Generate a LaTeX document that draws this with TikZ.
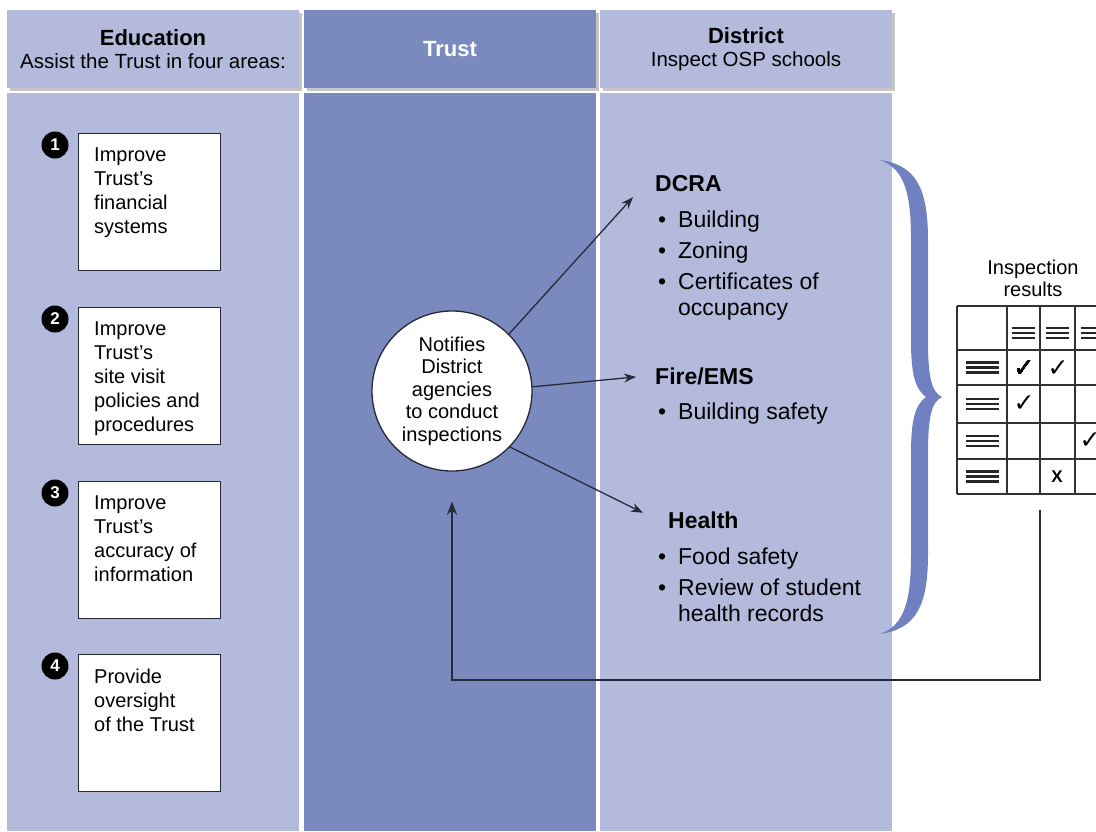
\documentclass[tikz,border=0pt]{standalone}
\usepackage{fontspec}
\setmainfont{Liberation Sans}
\newfontfamily\symfont{DejaVu Sans}
\usetikzlibrary{positioning,calc,shadows,arrows.meta}

\definecolor{lavender}{RGB}{180,186,220}
\definecolor{trustblue}{RGB}{122,138,190}
\definecolor{bracecol}{RGB}{112,128,192}
\definecolor{ink}{RGB}{38,42,56}

\tikzstyle{header} = [minimum width=292pt,minimum height=78pt,inner sep=0pt,align=center,
  font=\fontsize{20.5}{23}\selectfont,
  drop shadow={shadow xshift=2.5pt,shadow yshift=-2.5pt,opacity=.45}]
\tikzstyle{aimbox} = [draw=ink,line width=1.4pt,fill=white,minimum width=142pt,minimum height=137pt,anchor=north west,inner sep=0pt]
\tikzstyle{aimtext} = [align=left,inner sep=0pt,font=\fontsize{20}{24}\selectfont]
\tikzstyle{numdot} = [circle,fill=black,text=white,minimum size=27pt,inner sep=0pt,font=\fontsize{17}{17}\selectfont\bfseries]
\tikzstyle{nodedecorate} = [circle,draw=ink,line width=1.3pt,fill=white,minimum size=160pt,inner sep=0pt,align=center,font=\fontsize{20}{22.5}\selectfont]
\tikzstyle{agency} = [anchor=base west,inner sep=0pt,font=\fontsize{23}{26}\selectfont\bfseries]
\tikzstyle{item} = [anchor=base west,inner sep=0pt,font=\fontsize{23}{26}\selectfont]
\tikzstyle{arrowdecorate} = [-{Stealth[length=12pt,width=9pt]},line width=1.3pt,draw=ink]
\tikzstyle{feedback} = [-{Stealth[length=13pt,width=10pt]},line width=2.2pt,draw=ink]
\tikzstyle{grid line} = [line width=2pt,draw=black!80]
\tikzstyle{tick} = [inner sep=0pt,font=\symfont\fontsize{25}{25}\selectfont\bfseries]

\newcommand{\bul}{\makebox[20pt][l]{\textbullet}}
\newcommand{\menuicon}[4]{% x, y, half width, gap
  \foreach \dy in {-#4,0,#4} \draw[line width=2.6pt,black!85] ({#1-#3},{#2+\dy}) -- ({#1+#3},{#2+\dy});}

\begin{document}
\begin{tikzpicture}[x=1pt,y=-1pt]
  \useasboundingbox (0,0) rectangle (1096,831);
  \clip (0,0) rectangle (1096,831);

  %columns
  \fill[lavender] (7,93) rectangle (299,831);
  \fill[trustblue] (304,93) rectangle (596,831);
  \fill[lavender] (600,93) rectangle (892,831);

  \node[header,fill=lavender] (eduhead) at (153,49)
    {{\fontsize{22}{23}\selectfont\bfseries Education}\\Assist the Trust in four areas:};
  \node[header,fill=trustblue,text=white] (trusthead) at (450,49)
    {\fontsize{22}{23}\selectfont\bfseries Trust};
  \node[header,fill=lavender] (disthead) at (746,49)
    {{\fontsize{22}{23}\selectfont\bfseries District}\\Inspect OSP schools};

  %education areas
  \foreach \n/\top/\txt in {
    1/133/{Improve\\Trust's\\financial\\systems},
    2/307/{Improve\\Trust's\\site visit\\policies and\\procedures},
    3/481/{Improve\\Trust's\\accuracy of\\information},
    4/654/{Provide\\oversight\\of the Trust}}
  {
    \node[aimbox] (aim\n) at (78,\top) {};
    \node[aimtext,below right=15pt and 16pt of aim\n.north west] (aimtxt\n) {\txt};
    \node[numdot] (num\n) at ($(aim\n.north west)+(-23,12)$) {\n};
  }

  %trust
  \node[nodedecorate] (notify) at (452,391)
    {Notifies\\District\\agencies\\to conduct\\inspections};

  %district agencies
  \node[agency] (dcra) at (655,191) {DCRA};
  \node[agency] (fire) at (655,384) {Fire/EMS};
  \node[agency] (health) at (668,528) {Health};
  \foreach \name/\y/\txt in {bldg/227/Building, zon/258/Zoning, cert/289/Certificates of,
    safe/419/Building safety, food/564/Food safety, rev/595/Review of student}
    \node[item] (\name) at (658,\y) {\bul\txt};
  \node[item] (occ) at (678,315) {occupancy};
  \node[item] (hrec) at (678,621) {health records};

  \coordinate (dcra-in) at ($(dcra.west)+(-22,14)$);
  \coordinate (fire-in) at ($(fire.west)+(-19,1)$);
  \coordinate (health-in) at ($(health.west)+(-25,-7)$);
  \draw[arrowdecorate] (notify.45) -- (dcra-in);
  \draw[arrowdecorate] (notify.3) -- (fire-in);
  \draw[arrowdecorate] (notify.-44) -- (health-in);

  %brace
  \fill[bracecol] (880,160) .. controls (917,165) and (928,190) .. (928,240)
    -- (928,340) .. controls (928,375) and (931,392) .. (942,397)
    .. controls (931,402) and (928,419) .. (928,454)
    -- (928,554) .. controls (928,604) and (917,629) .. (880,634)
    .. controls (905,625) and (911,600) .. (911,554)
    -- (911,454) .. controls (911,420) and (915,405) .. (926,397)
    .. controls (915,389) and (911,374) .. (911,340)
    -- (911,240) .. controls (911,194) and (905,169) .. (880,160) -- cycle;

  %inspection results
  \node[align=center,inner sep=0pt,font=\fontsize{20}{22}\selectfont] (reslabel) at (1033,278) {Inspection\\results};
  \foreach \y in {306,350,385,423,459,494}
    \draw[grid line] (957,\y) -- (1110,\y);
  \foreach \x in {957,1007,1040,1075}
    \draw[grid line] (\x,306) -- (\x,494);
  \foreach \x in {1023.5,1057.5,1092.5}
    \menuicon{\x}{333}{11.5}{5}
  \foreach \y in {367.5,404,441,476.5}
    \menuicon{982.5}{\y}{16.5}{5}
  \node[tick] (t1) at (1024,369) {✓};
  \node[tick] (t2) at (1058,369) {✓};
  \node[tick] (t3) at (1024,404) {✓};
  \node[tick] (t4) at (1090,441) {✓};
  \node[inner sep=0pt,font=\fontsize{17}{17}\selectfont\bfseries] (cross) at (1057,477) {X};

  %feedback to the trust
  \coordinate (fbstart) at (1040,510);
  \draw[feedback] (fbstart) -- ++(0,170) -| ([yshift=-30pt]notify.south);
\end{tikzpicture}
\end{document}
